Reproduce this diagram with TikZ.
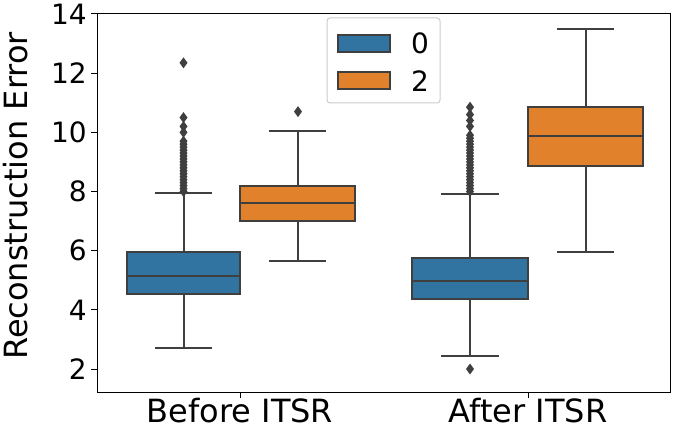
\documentclass[tikz,border=0pt]{standalone}
\usepackage{fontspec}
\setmainfont{DejaVu Sans}
\definecolor{cb}{HTML}{3274A1}
\definecolor{co}{HTML}{E1812C}
\definecolor{ln}{HTML}{3F3F3F}
\begin{document}
\begin{tikzpicture}[x=1pt,y=-1pt,
  bx/.style={draw=ln,line width=2pt},
  wk/.style={draw=ln,line width=2pt},
  tk/.style={font=\fontsize{28}{28}\selectfont,inner sep=1pt},
  al/.style={font=\fontsize{32}{32}\selectfont,inner sep=0pt}]
\useasboundingbox (0,0) rectangle (677,427);
\def\Y#1{369-(#1-2)*29.583}
\newcommand\boxplt[8]{%
  \pgfmathsetmacro\xm{(#1+#2)/2}
  \pgfmathsetmacro\ylo{\Y{#3}}\pgfmathsetmacro\yqa{\Y{#4}}
  \pgfmathsetmacro\ymd{\Y{#5}}\pgfmathsetmacro\yqb{\Y{#6}}
  \pgfmathsetmacro\yhi{\Y{#7}}
  \pgfmathsetmacro\wa{\xm-(#2-#1)/4}\pgfmathsetmacro\wb{\xm+(#2-#1)/4}
  \draw[wk] (\xm,\ylo)--(\xm,\yqa) (\xm,\yqb)--(\xm,\yhi);
  \draw[wk] (\wa,\ylo)--(\wb,\ylo) (\wa,\yhi)--(\wb,\yhi);
  \draw[bx,fill=#8] (#1,\yqa) rectangle (#2,\yqb);
  \draw[wk] (#1,\ymd)--(#2,\ymd);}
\newcommand\outl[2]{\pgfmathsetmacro\yo{\Y{#2}}\fill[ln] (#1,\yo-5.5)--(#1+4,\yo)--(#1,\yo+5.5)--(#1-4,\yo)--cycle;}
\draw[black,line width=1pt] (97,14) rectangle (670,392);
\foreach \v in {2,4,...,14}{
  \pgfmathsetmacro\yy{\Y{\v}}
  \draw[black,line width=1pt] (91,\yy)--(97,\yy);
  \node[tk,anchor=east] (t\v) at (88,\yy) {\v};}
\draw[black,line width=1pt] (240,392)--(240,398) (528,392)--(528,398);
\node[al,anchor=base] (lb1) at (240,422) {Before ITSR};
\node[al,anchor=base] (lb2) at (528,422) {After ITSR};
\node[al,rotate=90] (yl) at (16,196) {Reconstruction Error};
\boxplt{127}{240}{2.7}{4.55}{5.15}{5.95}{7.95}{cb}
\boxplt{240}{355}{5.65}{7.0}{7.6}{8.2}{10.05}{co}
\boxplt{412}{528}{2.45}{4.35}{4.97}{5.75}{7.9}{cb}
\boxplt{528}{643}{5.95}{8.85}{9.87}{10.85}{13.5}{co}
\foreach \v in {8.0,8.1,...,9.8,10.0,10.2,10.5}{\outl{183.5}{\v}}
\outl{183.5}{12.35}
\outl{298}{10.7}
\foreach \v in {8.0,8.1,...,10.0,10.2,10.4,10.6,10.85}{\outl{470}{\v}}
\outl{470}{2.0}
\draw[draw=black!20,fill=white,line width=1pt,rounded corners=3pt] (327,18) rectangle (440,103);
\draw[ln,line width=1.5pt,fill=cb] (338,35) rectangle (390,52);
\draw[ln,line width=1.5pt,fill=co] (338,72) rectangle (390,89);
\node[tk,anchor=west] (l0) at (410,43) {0};
\node[tk,anchor=west] (l2) at (410,81) {2};
\end{tikzpicture}
\end{document}
